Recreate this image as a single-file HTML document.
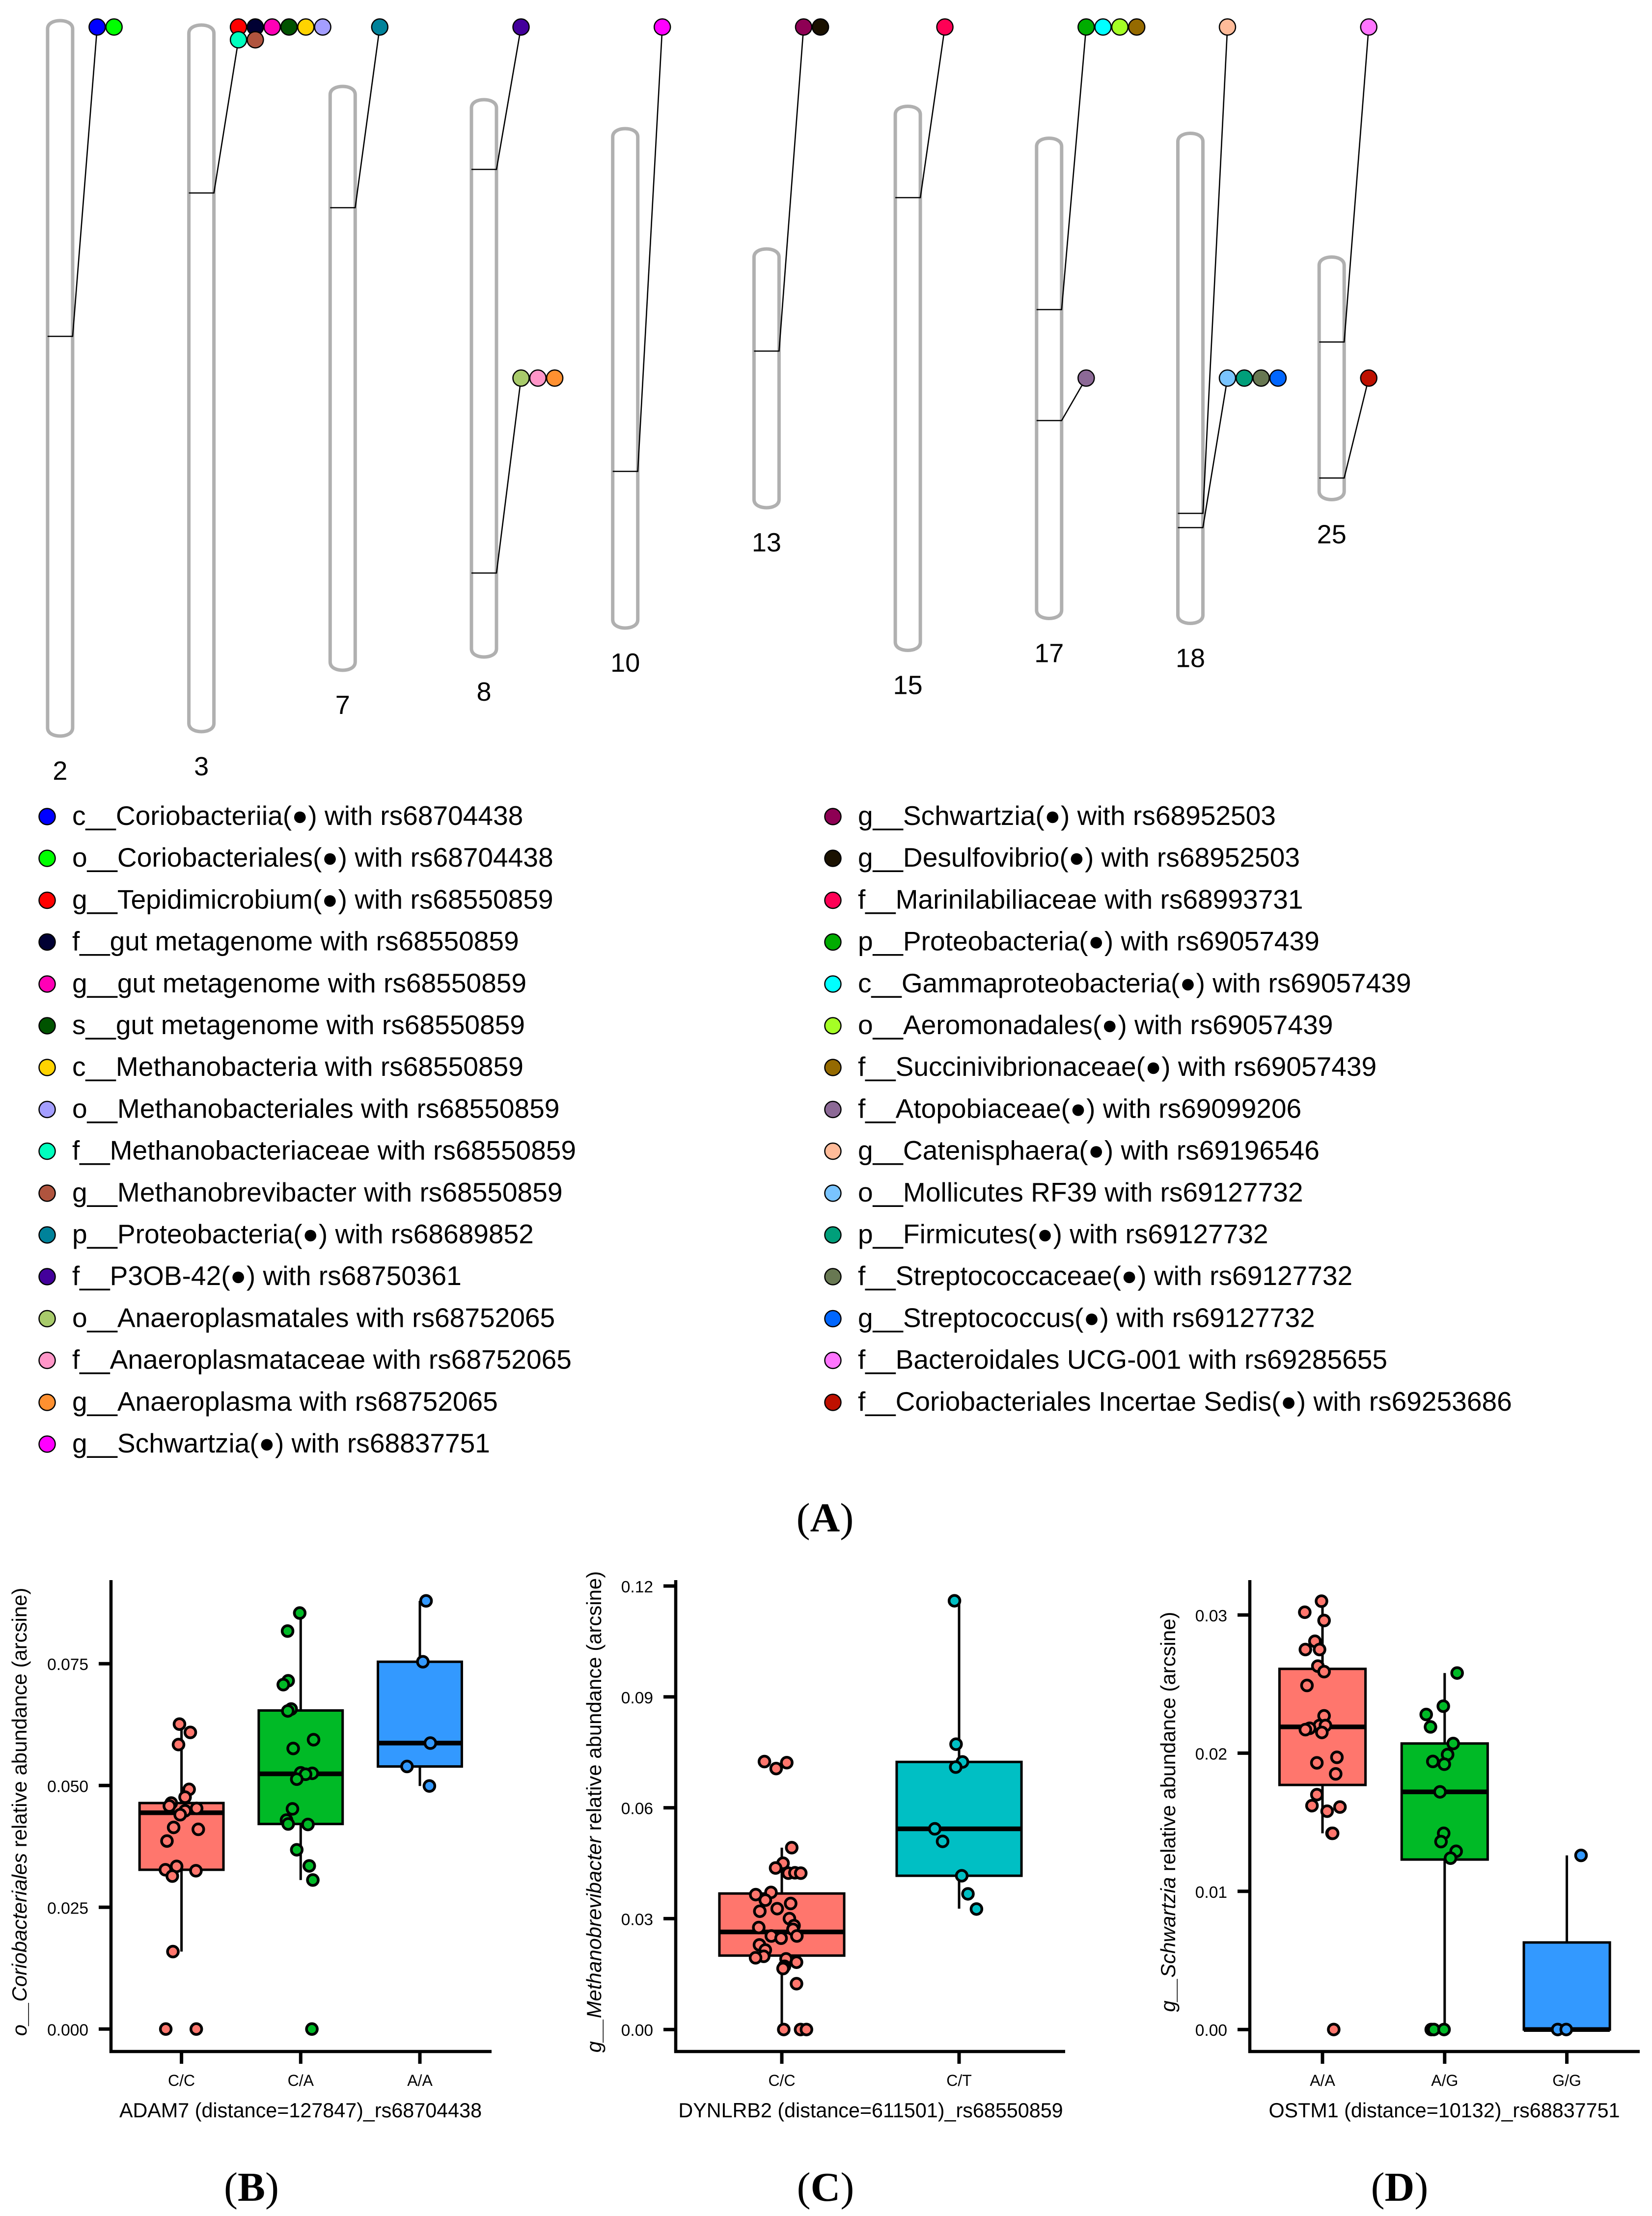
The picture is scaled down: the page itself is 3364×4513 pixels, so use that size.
<!DOCTYPE html>
<html lang="en">
<head>
<meta charset="utf-8">
<title>Genetic associations with gut taxa</title>
<style>
html,body{margin:0;padding:0;background:#fff;}
svg{display:block;}
text{font-family:"Liberation Sans",Arial,sans-serif;fill:#000;}
.leg{font-size:55.1px;}
.cap{font-family:"Liberation Serif","Times New Roman",serif;font-size:84px;text-anchor:middle;}
.cap tspan.b{font-weight:bold;}
</style>
</head>
<body>
<svg id="figure" xmlns="http://www.w3.org/2000/svg" width="3364" height="4513" viewBox="0 0 3364 4513">
<rect x="0" y="0" width="3364" height="4513" fill="#fff"/>
<g id="ideogram"></g>
<g id="legend-left" stroke-width="0">
<g><circle cx="96" cy="1663" r="16.5" fill="#0000FF" stroke="#000" stroke-width="2.5"/><text class="leg" x="147" y="1680">c__Coriobacteriia(●) with rs68704438</text></g>
<g><circle cx="96" cy="1748" r="16.5" fill="#00FF00" stroke="#000" stroke-width="2.5"/><text class="leg" x="147" y="1765">o__Coriobacteriales(●) with rs68704438</text></g>
<g><circle cx="96" cy="1833.5" r="16.5" fill="#FF0000" stroke="#000" stroke-width="2.5"/><text class="leg" x="147" y="1850.5">g__Tepidimicrobium(●) with rs68550859</text></g>
<g><circle cx="96" cy="1918.5" r="16.5" fill="#000033" stroke="#000" stroke-width="2.5"/><text class="leg" x="147" y="1935.5">f__gut metagenome with rs68550859</text></g>
<g><circle cx="96" cy="2004" r="16.5" fill="#FF00B6" stroke="#000" stroke-width="2.5"/><text class="leg" x="147" y="2021">g__gut metagenome with rs68550859</text></g>
<g><circle cx="96" cy="2089" r="16.5" fill="#005300" stroke="#000" stroke-width="2.5"/><text class="leg" x="147" y="2106">s__gut metagenome with rs68550859</text></g>
<g><circle cx="96" cy="2174" r="16.5" fill="#FFD300" stroke="#000" stroke-width="2.5"/><text class="leg" x="147" y="2191">c__Methanobacteria with rs68550859</text></g>
<g><circle cx="96" cy="2259.5" r="16.5" fill="#A49EFF" stroke="#000" stroke-width="2.5"/><text class="leg" x="147" y="2276.5">o__Methanobacteriales with rs68550859</text></g>
<g><circle cx="96" cy="2344.5" r="16.5" fill="#00FFBE" stroke="#000" stroke-width="2.5"/><text class="leg" x="147" y="2361.5">f__Methanobacteriaceae with rs68550859</text></g>
<g><circle cx="96" cy="2430" r="16.5" fill="#B0543E" stroke="#000" stroke-width="2.5"/><text class="leg" x="147" y="2447">g__Methanobrevibacter with rs68550859</text></g>
<g><circle cx="96" cy="2515" r="16.5" fill="#00829A" stroke="#000" stroke-width="2.5"/><text class="leg" x="147" y="2532">p__Proteobacteria(●) with rs68689852</text></g>
<g><circle cx="96" cy="2600" r="16.5" fill="#43009B" stroke="#000" stroke-width="2.5"/><text class="leg" x="147" y="2617">f__P3OB-42(●) with rs68750361</text></g>
<g><circle cx="96" cy="2685.5" r="16.5" fill="#A8CB6B" stroke="#000" stroke-width="2.5"/><text class="leg" x="147" y="2702.5">o__Anaeroplasmatales with rs68752065</text></g>
<g><circle cx="96" cy="2770.5" r="16.5" fill="#FF96C8" stroke="#000" stroke-width="2.5"/><text class="leg" x="147" y="2787.5">f__Anaeroplasmataceae with rs68752065</text></g>
<g><circle cx="96" cy="2856" r="16.5" fill="#FF9030" stroke="#000" stroke-width="2.5"/><text class="leg" x="147" y="2873">g__Anaeroplasma with rs68752065</text></g>
<g><circle cx="96" cy="2941" r="16.5" fill="#FF00FF" stroke="#000" stroke-width="2.5"/><text class="leg" x="147" y="2958">g__Schwartzia(●) with rs68837751</text></g>
</g>
<g id="legend-right">
<g><circle cx="1696" cy="1663" r="16.5" fill="#8E0054" stroke="#000" stroke-width="2.5"/><text class="leg" x="1747" y="1680">g__Schwartzia(●) with rs68952503</text></g>
<g><circle cx="1696" cy="1748" r="16.5" fill="#1A1100" stroke="#000" stroke-width="2.5"/><text class="leg" x="1747" y="1765">g__Desulfovibrio(●) with rs68952503</text></g>
<g><circle cx="1696" cy="1833.5" r="16.5" fill="#FF0055" stroke="#000" stroke-width="2.5"/><text class="leg" x="1747" y="1850.5">f__Marinilabiliaceae with rs68993731</text></g>
<g><circle cx="1696" cy="1918.5" r="16.5" fill="#00AC00" stroke="#000" stroke-width="2.5"/><text class="leg" x="1747" y="1935.5">p__Proteobacteria(●) with rs69057439</text></g>
<g><circle cx="1696" cy="2004" r="16.5" fill="#00FFFF" stroke="#000" stroke-width="2.5"/><text class="leg" x="1747" y="2021">c__Gammaproteobacteria(●) with rs69057439</text></g>
<g><circle cx="1696" cy="2089" r="16.5" fill="#A5FF25" stroke="#000" stroke-width="2.5"/><text class="leg" x="1747" y="2106">o__Aeromonadales(●) with rs69057439</text></g>
<g><circle cx="1696" cy="2174" r="16.5" fill="#956A00" stroke="#000" stroke-width="2.5"/><text class="leg" x="1747" y="2191">f__Succinivibrionaceae(●) with rs69057439</text></g>
<g><circle cx="1696" cy="2259.5" r="16.5" fill="#8C6996" stroke="#000" stroke-width="2.5"/><text class="leg" x="1747" y="2276.5">f__Atopobiaceae(●) with rs69099206</text></g>
<g><circle cx="1696" cy="2344.5" r="16.5" fill="#FFBB99" stroke="#000" stroke-width="2.5"/><text class="leg" x="1747" y="2361.5">g__Catenisphaera(●) with rs69196546</text></g>
<g><circle cx="1696" cy="2430" r="16.5" fill="#79C4FF" stroke="#000" stroke-width="2.5"/><text class="leg" x="1747" y="2447">o__Mollicutes RF39 with rs69127732</text></g>
<g><circle cx="1696" cy="2515" r="16.5" fill="#009F7A" stroke="#000" stroke-width="2.5"/><text class="leg" x="1747" y="2532">p__Firmicutes(●) with rs69127732</text></g>
<g><circle cx="1696" cy="2600" r="16.5" fill="#687852" stroke="#000" stroke-width="2.5"/><text class="leg" x="1747" y="2617">f__Streptococcaceae(●) with rs69127732</text></g>
<g><circle cx="1696" cy="2685.5" r="16.5" fill="#0066FF" stroke="#000" stroke-width="2.5"/><text class="leg" x="1747" y="2702.5">g__Streptococcus(●) with rs69127732</text></g>
<g><circle cx="1696" cy="2770.5" r="16.5" fill="#FF75FF" stroke="#000" stroke-width="2.5"/><text class="leg" x="1747" y="2787.5">f__Bacteroidales UCG-001 with rs69285655</text></g>
<g><circle cx="1696" cy="2856" r="16.5" fill="#BE1000" stroke="#000" stroke-width="2.5"/><text class="leg" x="1747" y="2873">f__Coriobacteriales Incertae Sedis(●) with rs69253686</text></g>
</g>
<text class="cap" x="1680" y="3119">(<tspan class="b">A</tspan>)</text>
<g id="panel-b"></g>
<g id="panel-c"></g>
<g id="panel-d"></g>
<text class="cap" x="512" y="4482">(<tspan class="b">B</tspan>)</text>
<text class="cap" x="1681" y="4482">(<tspan class="b">C</tspan>)</text>
<text class="cap" x="2850" y="4482">(<tspan class="b">D</tspan>)</text>
</svg>
<script>
/* ---------- Ideogram data ---------- */
const chromLabels = ['2','3','7','8','10','13','15','17','18','25'];
const chromLengths = [145.7,143.9,118.9,113.5,101.7,52.7,110.8,97.8,99.8,49.4];
const hitChromIndex = [0,1,2,3,3,4,5,6,7,7,8,8,9,9];
const hitPositions = [64.3,34.2,24.7,14.2,96.4,69.8,20.8,18.6,34.9,57.5,77.4,80.3,17.3,45.0];
const hitRows = [0,0,0,0,1,0,0,0,0,1,0,1,0,1];
const hitTaxonCounts = [2,8,1,1,3,1,2,1,4,1,1,4,1,1];
const taxonColors = ['#0000FF','#00FF00','#FF0000','#000033','#FF00B6','#005300','#FFD300','#A49EFF','#00FFBE','#B0543E','#00829A','#43009B','#A8CB6B','#FF96C8','#FF9030','#FF00FF','#8E0054','#1A1100','#FF0055','#00AC00','#00FFFF','#A5FF25','#956A00','#8C6996','#FFBB99','#79C4FF','#009F7A','#687852','#0066FF','#FF75FF','#BE1000'];

/* ---------- Panel B data ---------- */
const bCategories = ['C/C','C/A','A/A'];
const bTicks = [0,0.025,0.05,0.075];
const bTickLabels = ['0.000','0.025','0.050','0.075'];
const bQ1 = [0.0327,0.0421,0.0539];
const bMedian = [0.0444,0.0524,0.0587];
const bQ3 = [0.0464,0.0654,0.0754];
const bWhiskerLow = [0.0159,0.0306,0.0499];
const bWhiskerHigh = [0.0626,0.0854,0.0879];
const bValues0 = [0.0626,0.0609,0.0584,0.0492,0.0476,0.0464,0.0458,0.0453,0.0448,0.0440,0.0414,0.0410,0.0386,0.0327,0.0334,0.0325,0.0314,0.0159,0,0];
const bJitter0 = [-0.017,0.074,-0.025,0.064,0.030,-0.086,-0.102,0.127,0.030,-0.011,-0.066,0.141,-0.122,-0.135,-0.041,0.121,-0.077,-0.072,-0.132,0.124];
const bValues1 = [0.0854,0.0817,0.0715,0.0707,0.0657,0.0653,0.0594,0.0576,0.0526,0.0525,0.0523,0.0513,0.0452,0.0429,0.0421,0.0420,0.0368,0.0335,0.0306,0];
const bJitter1 = [-0.008,-0.110,-0.105,-0.146,-0.080,-0.108,0.108,-0.063,0,0.097,0.041,-0.033,-0.069,-0.119,-0.105,0.061,-0.033,0.072,0.102,0.094];
const bValues2 = [0.0879,0.0754,0.0587,0.0539,0.0499];
const bJitter2 = [0.052,0.025,0.088,-0.108,0.080];

/* ---------- Panel C data ---------- */
const cCategories = ['C/C','C/T'];
const cTicks = [0,0.03,0.06,0.09,0.12];
const cTickLabels = ['0.00','0.03','0.06','0.09','0.12'];
const cQ1 = [0.0200,0.0416];
const cMedian = [0.0264,0.0543];
const cQ3 = [0.0368,0.0724];
const cWhiskerLow = [0,0.0327];
const cWhiskerHigh = [0.0492,0.1160];
const cValues0 = [0.0725,0.0722,0.0706,0.0492,0.0450,0.0437,0.0423,0.0424,0.0423,0.0371,0.0365,0.0350,0.0341,0.0327,0.0320,0.0300,0.0276,0.0281,0.0271,0.0253,0.0247,0.0253,0.0229,0.0215,0.0198,0.0194,0.0191,0.0182,0.0171,0.0165,0.0124,0,0,0];
const cJitter0 = [-0.098,0.028,-0.032,0.056,0.007,-0.035,0.037,0.074,0.107,-0.061,-0.147,-0.093,0.050,-0.026,-0.124,0.043,-0.130,0.069,0.063,-0.059,-0.004,0.085,-0.126,-0.093,-0.102,-0.148,0.024,0.083,0.015,0.007,0.083,0.011,0.106,0.139];
const cValues1 = [0.1160,0.0772,0.0724,0.0710,0.0543,0.0509,0.0416,0.0367,0.0326];
const cJitter1 = [-0.026,-0.017,0.019,-0.019,-0.137,-0.093,0.015,0.050,0.098];

/* ---------- Panel D data ---------- */
const dCategories = ['A/A','A/G','G/G'];
const dTicks = [0,0.01,0.02,0.03];
const dTickLabels = ['0.00','0.01','0.02','0.03'];
const dQ1 = [0.0177,0.0123,0];
const dMedian = [0.0219,0.0172,0];
const dQ3 = [0.0261,0.0207,0.0063];
const dWhiskerLow = [0.0142,0,0];
const dWhiskerHigh = [0.0310,0.0258,0.0126];
const dValues0 = [0.0310,0.0302,0.0296,0.0281,0.0275,0.0275,0.0263,0.0259,0.0249,0.0227,0.0220,0.0220,0.0218,0.0217,0.0215,0.0197,0.0193,0.0185,0.0170,0.0162,0.0161,0.0158,0.0142,0.0142,0];
const dJitter0 = [-0.008,-0.145,0.013,-0.062,-0.140,-0.024,-0.038,0.013,-0.127,0.013,-0.024,0.024,-0.105,-0.140,-0.005,0.118,-0.046,0.108,-0.046,-0.086,0.143,0.038,0.078,0.083,0.092];
const dValues1 = [0.0258,0.0234,0.0228,0.0219,0.0207,0.0199,0.0194,0.0192,0.0172,0.0142,0.0136,0.0129,0.0124,0,0,0];
const dJitter1 = [0.102,-0.011,-0.151,-0.116,0.070,0.024,-0.097,-0.003,-0.038,-0.008,-0.030,0.094,0.048,-0.110,-0.089,-0.005];
const dValues2 = [0.0126,0,0];
const dJitter2 = [0.116,-0.075,-0.005];

const SVG_NS = 'http://www.w3.org/2000/svg';
function make(tag, attrs, parent){
  const el = document.createElementNS(SVG_NS, tag);
  for (const k in attrs) el.setAttribute(k, attrs[k]);
  parent.appendChild(el);
  return el;
}

/* ---------- Ideogram ---------- */
(function drawIdeogram(){
  const root = document.getElementById('ideogram');
  const pxPerUnit = 10, centerY = 770.5, halfW = 25.5, rowYs = [55, 770];
  const chromX = i => 122.4 + 287.7 * i;
  const chromTop = i => centerY - chromLengths[i] * pxPerUnit / 2;
  const posY = (i, p) => chromTop(i) + p * pxPerUnit;

  function capsule(x, top, h){
    const l = x - halfW, r = x + halfW, b = top + h;
    return 'M' + l + ',' + (top + 17) +
      ' C' + l + ',' + (top + 4) + ' ' + (l + 15) + ',' + top + ' ' + x + ',' + top +
      ' C' + (r - 15) + ',' + top + ' ' + r + ',' + (top + 4) + ' ' + r + ',' + (top + 17) +
      ' L' + r + ',' + (b - 17) +
      ' C' + r + ',' + (b - 4) + ' ' + (r - 15) + ',' + b + ' ' + x + ',' + b +
      ' C' + (l + 15) + ',' + b + ' ' + l + ',' + (b - 4) + ' ' + l + ',' + (b - 17) + ' Z';
  }

  chromLabels.forEach(function(label, i){
    const x = chromX(i), top = chromTop(i), h = chromLengths[i] * pxPerUnit;
    const body = make('path', {d: capsule(x, top, h), fill: '#fff', stroke: '#B0B0B0', 'stroke-width': 7}, root);
    
    
    const t = make('text', {x: x, y: top + h + 89, 'text-anchor': 'middle', 'font-size': 54}, root);
    t.textContent = label;
    
    
  });

  let taxon = 0;
  hitPositions.forEach(function(p, h){
    const c = hitChromIndex[h], right = chromX(c) + halfW, y = posY(c, p);
    const baseX = right + 50, rowY = rowYs[hitRows[h]], n = hitTaxonCounts[h];
    const perRow = 6, rows = Math.ceil(n / perRow);
    const lastRowY = rowY + (rows - 1) * 26;
    const band = make('polyline', {points: (chromX(c) - halfW) + ',' + y + ' ' + right + ',' + y + ' ' + baseX + ',' + lastRowY, fill: 'none', stroke: '#000', 'stroke-width': 2.6}, root);
    
    
    for (let k = 0; k < n; k++){
      const col = k % perRow, row = Math.floor(k / perRow);
      const m = make('circle', {cx: baseX + col * 34.3, cy: rowY + row * 26, r: 16.5, fill: taxonColors[taxon], stroke: '#000', 'stroke-width': 2.5}, root);
      
      
      taxon++;
    }
  });
})();

/* ---------- Boxplots ---------- */
function drawPanel(id, g, d){
  const root = document.getElementById(id);
  const yPx = v => g.zeroY - v * g.unitPx;
  const xPx = (i, j) => g.catX + (i + (j || 0)) * g.catStep;
  const boxHalf = 0.352;

  d.categories.forEach(function(cat, i){
    const cx = xPx(i), left = xPx(i, -boxHalf), w = 2 * boxHalf * g.catStep;
    const whisker = make('line', {x1: cx, x2: cx, y1: yPx(d.whiskerHigh[i]), y2: yPx(d.whiskerLow[i]), stroke: '#000', 'stroke-width': 5}, root);
    
    
    const box = make('rect', {x: left, y: yPx(d.q3[i]), width: w, height: yPx(d.q1[i]) - yPx(d.q3[i]), fill: d.fills[i], stroke: '#000', 'stroke-width': 5}, root);
    
    
    const med = make('line', {x1: left, x2: left + w, y1: yPx(d.median[i]), y2: yPx(d.median[i]), stroke: '#000', 'stroke-width': 9.5}, root);
    
    
    d.values[i].forEach(function(v, k){
      const pt = make('circle', {cx: xPx(i, d.jitter[i][k]), cy: yPx(v), r: 11, fill: d.fills[i], stroke: '#000', 'stroke-width': 5.5}, root);
      
      
    });
    const tick = make('line', {x1: cx, x2: cx, y1: g.axisY, y2: g.axisY + 25, stroke: '#000', 'stroke-width': 7}, root);
    
    
    const lab = make('text', {x: cx, y: 4248, 'text-anchor': 'middle', 'font-size': 32}, root);
    lab.textContent = cat;
    
    
  });

  d.ticks.forEach(function(v, i){
    const tick = make('line', {x1: g.axisX - 25, x2: g.axisX, y1: yPx(v), y2: yPx(v), stroke: '#000', 'stroke-width': 7}, root);
    
    
    const lab = make('text', {x: g.axisX - 46, y: yPx(v) + 13, 'text-anchor': 'end', 'font-size': 33.5}, root);
    lab.textContent = d.tickLabels[i];
    
    
  });

  const yAxis = make('line', {x1: g.axisX, x2: g.axisX, y1: 3218, y2: g.axisY + 3, stroke: '#000', 'stroke-width': 6.5}, root);
  
  
  const xAxis = make('line', {x1: g.axisX - 3, x2: g.xEnd, y1: g.axisY, y2: g.axisY, stroke: '#000', 'stroke-width': 6.5}, root);
  
  

  const xt = make('text', {x: g.xTitleX, y: 4312, 'text-anchor': 'middle', 'font-size': 41.3}, root);
  xt.textContent = d.xTitle;
  
  

  const yt = make('text', {transform: 'translate(' + g.yTitleX + ',3690) rotate(-90)', 'text-anchor': 'middle', 'font-size': 41.9}, root);
  
  
  const it = make('tspan', {'font-style': 'italic'}, yt);
  it.textContent = d.yTaxon;
  const rest = make('tspan', {}, yt);
  rest.textContent = ' relative abundance (arcsine)';
}

const FILL_SALMON = '#FF766D', FILL_GREEN = '#00BA26', FILL_BLUE = '#3399FF', FILL_TEAL = '#00BFC4';

drawPanel('panel-b',
  {axisX: 226, axisY: 4178, xEnd: 1001, zeroY: 4132.3, unitPx: 9921, catX: 369.6, catStep: 242.7, xTitleX: 612, yTitleX: 54},
  {categories: bCategories, ticks: bTicks, tickLabels: bTickLabels, q1: bQ1, median: bMedian, q3: bQ3, whiskerLow: bWhiskerLow, whiskerHigh: bWhiskerHigh,
   values: [bValues0, bValues1, bValues2], jitter: [bJitter0, bJitter1, bJitter2], fills: [FILL_SALMON, FILL_GREEN, FILL_BLUE],
   xTitle: 'ADAM7 (distance=127847)_rs68704438', yTaxon: 'o__Coriobacteriales'});

drawPanel('panel-c',
  {axisX: 1376, axisY: 4178, xEnd: 2169, zeroY: 4133.2, unitPx: 7527, catX: 1592, catStep: 361, xTitleX: 1773, yTitleX: 1224},
  {categories: cCategories, ticks: cTicks, tickLabels: cTickLabels, q1: cQ1, median: cMedian, q3: cQ3, whiskerLow: cWhiskerLow, whiskerHigh: cWhiskerHigh,
   values: [cValues0, cValues1], jitter: [cJitter0, cJitter1], fills: [FILL_SALMON, FILL_TEAL],
   xTitle: 'DYNLRB2 (distance=611501)_rs68550859', yTaxon: 'g__Methanobrevibacter'});

drawPanel('panel-d',
  {axisX: 2545, axisY: 4178, xEnd: 3339, zeroY: 4133.2, unitPx: 28140, catX: 2693, catStep: 248.8, xTitleX: 2941, yTitleX: 2393},
  {categories: dCategories, ticks: dTicks, tickLabels: dTickLabels, q1: dQ1, median: dMedian, q3: dQ3, whiskerLow: dWhiskerLow, whiskerHigh: dWhiskerHigh,
   values: [dValues0, dValues1, dValues2], jitter: [dJitter0, dJitter1, dJitter2], fills: [FILL_SALMON, FILL_GREEN, FILL_BLUE],
   xTitle: 'OSTM1 (distance=10132)_rs68837751', yTaxon: 'g__Schwartzia'});
</script>
</body>
</html>
